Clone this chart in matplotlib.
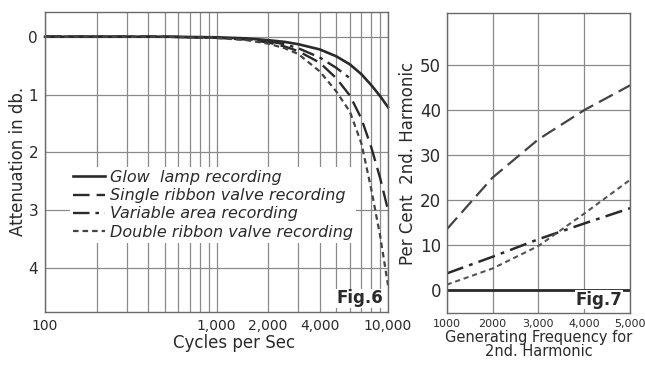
import matplotlib
matplotlib.use("Agg")
import matplotlib.pyplot as plt

# Fig. 6 - attenuation vs frequency
freq6 = [100, 200, 500, 1000, 1500, 2000, 2500, 3000, 4000, 5000, 6000, 7000, 8000, 9000, 10000]
glow6 = [0, 0, 0, 0.01, 0.03, 0.06, 0.09, 0.13, 0.22, 0.34, 0.48, 0.65, 0.84, 1.03, 1.22]
single6 = [0, 0, 0, 0.02, 0.05, 0.1, 0.17, 0.25, 0.45, 0.72, 1.02, 1.42, 1.92, 2.45, 3.0]
double6 = [0, 0, 0, 0.02, 0.06, 0.12, 0.2, 0.3, 0.6, 0.95, 1.3, 1.85, 2.65, 3.45, 4.3]
freq6_va = [100, 200, 500, 1000, 1500, 2000, 2500, 3000, 4000, 5000, 6000]
varea6 = [0, 0, 0, 0.02, 0.04, 0.08, 0.13, 0.2, 0.36, 0.54, 0.72]

labels6 = ["Glow  lamp recording", "Single ribbon valve recording",
           "Variable area recording", "Double ribbon valve recording"]
xticks6 = [100, 1000, 2000, 4000, 10000]
xticklabels6 = ["100", "1,000", "2,000", "4,000", "10,000"]

# Fig. 7 - per cent 2nd harmonic
freq7 = [1000, 2000, 3000, 4000, 5000]
glow7 = [0, 0, 0, 0, 0]
single7 = [13.5, 25, 33.5, 40, 45.5]
varea7 = [3.7, 7.4, 11.3, 14.8, 18.2]
double7 = [1.2, 4.8, 9.8, 17, 24.5]
xticklabels7 = ["1000", "2000", "3,000", "4,000", "5,000"]

ink = "#2a2a2a"
gridc = "#8a8a8a"
fam = ["DejaVu Sans"]

styles = {
    "solid": "-",
    "dash": (0, (7, 3)),
    "dashdot": (0, (7, 2.5, 1.5, 2.5)),
    "dot": (0, (2.5, 1.8)),
}

fig = plt.figure(figsize=(6.45, 3.7), dpi=100)
fig.patch.set_facecolor("white")

ax1 = fig.add_axes([0.0698, 0.157, 0.5318, 0.811])
ax1.set_xscale("log")
ax1.set_xlim(100, 10000)
ax1.set_ylim(4.76, -0.43)
ax1.plot(freq6, glow6, color=ink, lw=1.9, ls=styles["solid"], label=labels6[0], clip_on=False)
ax1.plot(freq6, single6, color=ink, lw=1.7, ls=styles["dash"], label=labels6[1], clip_on=False)
ax1.plot(freq6_va, varea6, color=ink, lw=1.7, ls=styles["dashdot"], label=labels6[2])
ax1.plot(freq6, double6, color="#444444", lw=1.6, ls=styles["dot"], label=labels6[3], clip_on=False)
ax1.set_xticks(xticks6)
ax1.set_xticklabels(xticklabels6, family=fam, fontsize=10, color=ink)
ax1.set_yticks([0, 1, 2, 3, 4])
ax1.set_yticklabels(["0", "1", "2", "3", "4"], family=fam, fontsize=11, color=ink)
ax1.grid(True, which="both", axis="x", color=gridc, lw=0.9)
ax1.grid(True, which="major", axis="y", color=gridc, lw=0.9)
ax1.tick_params(which="both", length=0, pad=5)
ax1.set_xlabel("Cycles per Sec", family=fam, fontsize=12, color=ink, labelpad=0)
ax1.xaxis.set_label_coords(0.55, -0.075)
ax1.set_ylabel("Attenuation in db.", family=fam, fontsize=12, color=ink)
ax1.yaxis.set_label_coords(-0.052, 0.5)
leg = ax1.legend(loc="upper left", bbox_to_anchor=(0.05, 0.51), frameon=True,
                 prop={"family": fam, "style": "italic", "size": 11.5},
                 handlelength=2.0, handletextpad=0.3, labelspacing=0.2,
                 borderpad=0.2, fancybox=False)
leg.get_frame().set_facecolor("white")
leg.get_frame().set_edgecolor("none")
leg.get_frame().set_alpha(1)
for t in leg.get_texts():
    t.set_color(ink)
ax1.text(0.985, 0.015, "Fig.6", transform=ax1.transAxes, ha="right", va="bottom",
         fontsize=12, fontweight="bold", color=ink, family=fam,
         bbox=dict(facecolor="white", edgecolor="none", pad=0.5))

ax2 = fig.add_axes([0.6926, 0.154, 0.2842, 0.811])
ax2.set_xlim(1000, 5000)
ax2.set_ylim(-5.1, 61.6)
ax2.plot(freq7, glow7, color=ink, lw=2.0, ls=styles["solid"])
ax2.plot(freq7, single7, color="#444444", lw=1.6, ls=styles["dash"])
ax2.plot(freq7, varea7, color=ink, lw=1.8, ls=styles["dashdot"])
ax2.plot(freq7, double7, color="#555555", lw=1.5, ls=styles["dot"])
ax2.set_xticks(freq7)
ax2.set_xticklabels(xticklabels7, family=fam, fontsize=8, color=ink)
ax2.set_yticks([0, 10, 20, 30, 40, 50])
ax2.set_yticklabels(["0", "10", "20", "30", "40", "50"], family=fam, fontsize=12, color=ink)
ax2.grid(True, color=gridc, lw=0.9)
ax2.tick_params(length=0, pad=4)
ax2.set_xlabel("Generating Frequency for\n2nd. Harmonic", family=fam, fontsize=10.5,
               color=ink, labelpad=1, linespacing=0.95)
ax2.set_ylabel("Per Cent  2nd. Harmonic", family=fam, fontsize=12, color=ink, labelpad=2)
ax2.text(0.96, 0.015, "Fig.7", transform=ax2.transAxes, ha="right", va="bottom",
         fontsize=12, fontweight="bold", color=ink, family=fam,
         bbox=dict(facecolor="white", edgecolor="none", pad=0.5))

for ax in (ax1, ax2):
    ax.set_axisbelow(True)
    for s in ax.spines.values():
        s.set_color("#6a6a6a")
        s.set_linewidth(1.0)

fig.savefig("out.png", dpi=100, facecolor="white")
